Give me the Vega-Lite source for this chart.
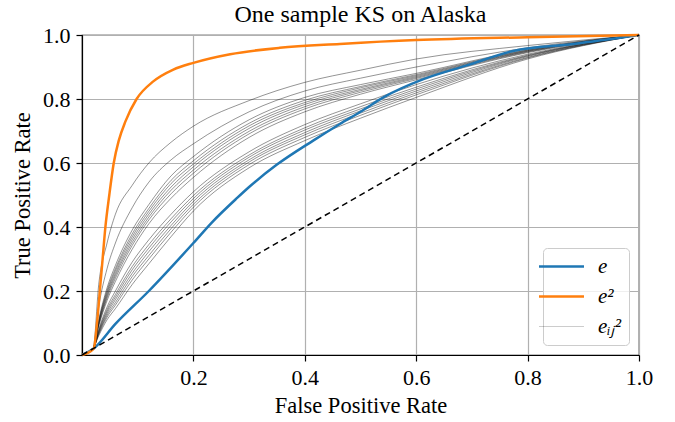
{
"$schema": "https://vega.github.io/schema/vega-lite/v6.json",
"width": 557, "height": 320,
"autosize": {"type": "none"},
"padding": {"left": 82, "top": 35, "right": 36, "bottom": 68},
"background": "white",
"title": {"text": "One sample KS on Alaska", "font": "'Liberation Serif', 'Times New Roman', serif", "fontSize": 24, "fontWeight": "normal", "color": "black", "offset": -3, "anchor": "middle"},
"config": {
 "font": "'Liberation Serif', 'Times New Roman', serif",
 "view": {"stroke": "black", "strokeWidth": 1.2},
 "axis": {"labelFont": "'Liberation Serif', 'Times New Roman', serif", "labelFontSize": 22, "labelColor": "black", "titleFont": "'Liberation Serif', 'Times New Roman', serif", "titleFontSize": 22.5, "titleFontWeight": "normal", "titleColor": "black", "tickColor": "black", "tickSize": 6, "tickWidth": 1.2, "domainColor": "black", "domainWidth": 1.2, "gridColor": "#b0b0b0", "gridWidth": 1.2, "gridOpacity": 1, "labelPadding": 6, "labelFlush": false, "labelOverlap": false},
 "legend": {"title": null, "orient": "bottom-right", "offset": 10, "symbolType": "M-2,0H2", "symbolSize": 506, "symbolOpacity": 1, "labelFont": "'Liberation Serif', 'Times New Roman', serif", "labelFontStyle": "italic", "labelFontSize": 21, "labelColor": "black", "labelOffset": 26, "rowPadding": 8, "padding": 8, "strokeColor": "#cccccc", "fillColor": "rgba(255,255,255,0.8)", "cornerRadius": 4}
},
"datasets": {"curves": [
{"s":"e","id":"e","x":0,"y":0},{"s":"e","id":"e","x":0.021,"y":0.02},{"s":"e","id":"e","x":0.06,"y":0.097},{"s":"e","id":"e","x":0.12,"y":0.2},{"s":"e","id":"e","x":0.2,"y":0.35},{"s":"e","id":"e","x":0.233,"y":0.414},{"s":"e","id":"e","x":0.278,"y":0.49},{"s":"e","id":"e","x":0.3,"y":0.525},{"s":"e","id":"e","x":0.35,"y":0.595},{"s":"e","id":"e","x":0.415,"y":0.67},{"s":"e","id":"e","x":0.463,"y":0.722},{"s":"e","id":"e","x":0.5,"y":0.76},{"s":"e","id":"e","x":0.541,"y":0.805},{"s":"e","id":"e","x":0.613,"y":0.862},{"s":"e","id":"e","x":0.691,"y":0.905},{"s":"e","id":"e","x":0.774,"y":0.95},{"s":"e","id":"e","x":0.882,"y":0.972},{"s":"e","id":"e","x":1,"y":1},
{"s":"e2","id":"e2","x":0,"y":0},{"s":"e2","id":"e2","x":0.021,"y":0.02},{"s":"e2","id":"e2","x":0.027,"y":0.1},{"s":"e2","id":"e2","x":0.032,"y":0.2},{"s":"e2","id":"e2","x":0.037,"y":0.3},{"s":"e2","id":"e2","x":0.042,"y":0.4},{"s":"e2","id":"e2","x":0.049,"y":0.5},{"s":"e2","id":"e2","x":0.057,"y":0.6},{"s":"e2","id":"e2","x":0.066,"y":0.67},{"s":"e2","id":"e2","x":0.078,"y":0.73},{"s":"e2","id":"e2","x":0.098,"y":0.8},{"s":"e2","id":"e2","x":0.128,"y":0.855},{"s":"e2","id":"e2","x":0.164,"y":0.892},{"s":"e2","id":"e2","x":0.2,"y":0.913},{"s":"e2","id":"e2","x":0.266,"y":0.94},{"s":"e2","id":"e2","x":0.355,"y":0.96},{"s":"e2","id":"e2","x":0.463,"y":0.972},{"s":"e2","id":"e2","x":0.6,"y":0.984},{"s":"e2","id":"e2","x":0.8,"y":0.993},{"s":"e2","id":"e2","x":1,"y":1},
{"s":"eij","id":"L1","x":0,"y":0},{"s":"eij","id":"L1","x":0.02,"y":0.02},{"s":"eij","id":"L1","x":0.03,"y":0.06},{"s":"eij","id":"L1","x":0.045,"y":0.11},{"s":"eij","id":"L1","x":0.06,"y":0.145},{"s":"eij","id":"L1","x":0.09,"y":0.22},{"s":"eij","id":"L1","x":0.12,"y":0.285},{"s":"eij","id":"L1","x":0.16,"y":0.37},{"s":"eij","id":"L1","x":0.2,"y":0.45},{"s":"eij","id":"L1","x":0.3,"y":0.585},{"s":"eij","id":"L1","x":0.4,"y":0.67},{"s":"eij","id":"L1","x":0.5,"y":0.74},{"s":"eij","id":"L1","x":0.6,"y":0.805},{"s":"eij","id":"L1","x":0.8,"y":0.925},{"s":"eij","id":"L1","x":1,"y":1},
{"s":"eij","id":"L2","x":0,"y":0},{"s":"eij","id":"L2","x":0.02,"y":0.02},{"s":"eij","id":"L2","x":0.03,"y":0.064},{"s":"eij","id":"L2","x":0.045,"y":0.118},{"s":"eij","id":"L2","x":0.06,"y":0.156},{"s":"eij","id":"L2","x":0.09,"y":0.234},{"s":"eij","id":"L2","x":0.12,"y":0.3},{"s":"eij","id":"L2","x":0.16,"y":0.384},{"s":"eij","id":"L2","x":0.2,"y":0.462},{"s":"eij","id":"L2","x":0.3,"y":0.595},{"s":"eij","id":"L2","x":0.4,"y":0.68},{"s":"eij","id":"L2","x":0.5,"y":0.749},{"s":"eij","id":"L2","x":0.6,"y":0.813},{"s":"eij","id":"L2","x":0.8,"y":0.928},{"s":"eij","id":"L2","x":1,"y":1},
{"s":"eij","id":"L3","x":0,"y":0},{"s":"eij","id":"L3","x":0.02,"y":0.02},{"s":"eij","id":"L3","x":0.03,"y":0.067},{"s":"eij","id":"L3","x":0.045,"y":0.124},{"s":"eij","id":"L3","x":0.06,"y":0.164},{"s":"eij","id":"L3","x":0.09,"y":0.245},{"s":"eij","id":"L3","x":0.12,"y":0.311},{"s":"eij","id":"L3","x":0.16,"y":0.395},{"s":"eij","id":"L3","x":0.2,"y":0.471},{"s":"eij","id":"L3","x":0.3,"y":0.603},{"s":"eij","id":"L3","x":0.4,"y":0.688},{"s":"eij","id":"L3","x":0.5,"y":0.756},{"s":"eij","id":"L3","x":0.6,"y":0.819},{"s":"eij","id":"L3","x":0.8,"y":0.93},{"s":"eij","id":"L3","x":1,"y":1},
{"s":"eij","id":"L4","x":0,"y":0},{"s":"eij","id":"L4","x":0.02,"y":0.02},{"s":"eij","id":"L4","x":0.03,"y":0.07},{"s":"eij","id":"L4","x":0.045,"y":0.13},{"s":"eij","id":"L4","x":0.06,"y":0.173},{"s":"eij","id":"L4","x":0.09,"y":0.255},{"s":"eij","id":"L4","x":0.12,"y":0.323},{"s":"eij","id":"L4","x":0.16,"y":0.405},{"s":"eij","id":"L4","x":0.2,"y":0.48},{"s":"eij","id":"L4","x":0.3,"y":0.61},{"s":"eij","id":"L4","x":0.4,"y":0.695},{"s":"eij","id":"L4","x":0.5,"y":0.763},{"s":"eij","id":"L4","x":0.6,"y":0.825},{"s":"eij","id":"L4","x":0.8,"y":0.933},{"s":"eij","id":"L4","x":1,"y":1},
{"s":"eij","id":"L5","x":0,"y":0},{"s":"eij","id":"L5","x":0.02,"y":0.02},{"s":"eij","id":"L5","x":0.03,"y":0.073},{"s":"eij","id":"L5","x":0.045,"y":0.136},{"s":"eij","id":"L5","x":0.06,"y":0.181},{"s":"eij","id":"L5","x":0.09,"y":0.266},{"s":"eij","id":"L5","x":0.12,"y":0.334},{"s":"eij","id":"L5","x":0.16,"y":0.416},{"s":"eij","id":"L5","x":0.2,"y":0.489},{"s":"eij","id":"L5","x":0.3,"y":0.618},{"s":"eij","id":"L5","x":0.4,"y":0.703},{"s":"eij","id":"L5","x":0.5,"y":0.769},{"s":"eij","id":"L5","x":0.6,"y":0.831},{"s":"eij","id":"L5","x":0.8,"y":0.935},{"s":"eij","id":"L5","x":1,"y":1},
{"s":"eij","id":"L6","x":0,"y":0},{"s":"eij","id":"L6","x":0.02,"y":0.02},{"s":"eij","id":"L6","x":0.03,"y":0.076},{"s":"eij","id":"L6","x":0.045,"y":0.142},{"s":"eij","id":"L6","x":0.06,"y":0.189},{"s":"eij","id":"L6","x":0.09,"y":0.276},{"s":"eij","id":"L6","x":0.12,"y":0.345},{"s":"eij","id":"L6","x":0.16,"y":0.426},{"s":"eij","id":"L6","x":0.2,"y":0.498},{"s":"eij","id":"L6","x":0.3,"y":0.625},{"s":"eij","id":"L6","x":0.4,"y":0.71},{"s":"eij","id":"L6","x":0.5,"y":0.776},{"s":"eij","id":"L6","x":0.6,"y":0.837},{"s":"eij","id":"L6","x":0.8,"y":0.937},{"s":"eij","id":"L6","x":1,"y":1},
{"s":"eij","id":"L7","x":0,"y":0},{"s":"eij","id":"L7","x":0.02,"y":0.02},{"s":"eij","id":"L7","x":0.03,"y":0.08},{"s":"eij","id":"L7","x":0.045,"y":0.15},{"s":"eij","id":"L7","x":0.06,"y":0.2},{"s":"eij","id":"L7","x":0.09,"y":0.29},{"s":"eij","id":"L7","x":0.12,"y":0.36},{"s":"eij","id":"L7","x":0.16,"y":0.44},{"s":"eij","id":"L7","x":0.2,"y":0.51},{"s":"eij","id":"L7","x":0.3,"y":0.635},{"s":"eij","id":"L7","x":0.4,"y":0.72},{"s":"eij","id":"L7","x":0.5,"y":0.785},{"s":"eij","id":"L7","x":0.6,"y":0.845},{"s":"eij","id":"L7","x":0.8,"y":0.94},{"s":"eij","id":"L7","x":1,"y":1},
{"s":"eij","id":"U1","x":0,"y":0},{"s":"eij","id":"U1","x":0.02,"y":0.02},{"s":"eij","id":"U1","x":0.03,"y":0.09},{"s":"eij","id":"U1","x":0.045,"y":0.17},{"s":"eij","id":"U1","x":0.06,"y":0.23},{"s":"eij","id":"U1","x":0.09,"y":0.33},{"s":"eij","id":"U1","x":0.12,"y":0.41},{"s":"eij","id":"U1","x":0.16,"y":0.49},{"s":"eij","id":"U1","x":0.2,"y":0.555},{"s":"eij","id":"U1","x":0.3,"y":0.68},{"s":"eij","id":"U1","x":0.4,"y":0.76},{"s":"eij","id":"U1","x":0.5,"y":0.815},{"s":"eij","id":"U1","x":0.6,"y":0.86},{"s":"eij","id":"U1","x":0.8,"y":0.945},{"s":"eij","id":"U1","x":1,"y":1},
{"s":"eij","id":"U2","x":0,"y":0},{"s":"eij","id":"U2","x":0.02,"y":0.02},{"s":"eij","id":"U2","x":0.03,"y":0.094},{"s":"eij","id":"U2","x":0.045,"y":0.178},{"s":"eij","id":"U2","x":0.06,"y":0.24},{"s":"eij","id":"U2","x":0.09,"y":0.342},{"s":"eij","id":"U2","x":0.12,"y":0.422},{"s":"eij","id":"U2","x":0.16,"y":0.504},{"s":"eij","id":"U2","x":0.2,"y":0.568},{"s":"eij","id":"U2","x":0.3,"y":0.691},{"s":"eij","id":"U2","x":0.4,"y":0.769},{"s":"eij","id":"U2","x":0.5,"y":0.821},{"s":"eij","id":"U2","x":0.6,"y":0.864},{"s":"eij","id":"U2","x":0.8,"y":0.947},{"s":"eij","id":"U2","x":1,"y":1},
{"s":"eij","id":"U3","x":0,"y":0},{"s":"eij","id":"U3","x":0.02,"y":0.02},{"s":"eij","id":"U3","x":0.03,"y":0.097},{"s":"eij","id":"U3","x":0.045,"y":0.184},{"s":"eij","id":"U3","x":0.06,"y":0.248},{"s":"eij","id":"U3","x":0.09,"y":0.351},{"s":"eij","id":"U3","x":0.12,"y":0.431},{"s":"eij","id":"U3","x":0.16,"y":0.515},{"s":"eij","id":"U3","x":0.2,"y":0.578},{"s":"eij","id":"U3","x":0.3,"y":0.699},{"s":"eij","id":"U3","x":0.4,"y":0.776},{"s":"eij","id":"U3","x":0.5,"y":0.826},{"s":"eij","id":"U3","x":0.6,"y":0.867},{"s":"eij","id":"U3","x":0.8,"y":0.949},{"s":"eij","id":"U3","x":1,"y":1},
{"s":"eij","id":"U4","x":0,"y":0},{"s":"eij","id":"U4","x":0.02,"y":0.02},{"s":"eij","id":"U4","x":0.03,"y":0.1},{"s":"eij","id":"U4","x":0.045,"y":0.19},{"s":"eij","id":"U4","x":0.06,"y":0.255},{"s":"eij","id":"U4","x":0.09,"y":0.36},{"s":"eij","id":"U4","x":0.12,"y":0.44},{"s":"eij","id":"U4","x":0.16,"y":0.525},{"s":"eij","id":"U4","x":0.2,"y":0.588},{"s":"eij","id":"U4","x":0.3,"y":0.708},{"s":"eij","id":"U4","x":0.4,"y":0.783},{"s":"eij","id":"U4","x":0.5,"y":0.83},{"s":"eij","id":"U4","x":0.6,"y":0.87},{"s":"eij","id":"U4","x":0.8,"y":0.95},{"s":"eij","id":"U4","x":1,"y":1},
{"s":"eij","id":"U5","x":0,"y":0},{"s":"eij","id":"U5","x":0.02,"y":0.02},{"s":"eij","id":"U5","x":0.03,"y":0.103},{"s":"eij","id":"U5","x":0.045,"y":0.196},{"s":"eij","id":"U5","x":0.06,"y":0.263},{"s":"eij","id":"U5","x":0.09,"y":0.369},{"s":"eij","id":"U5","x":0.12,"y":0.449},{"s":"eij","id":"U5","x":0.16,"y":0.536},{"s":"eij","id":"U5","x":0.2,"y":0.597},{"s":"eij","id":"U5","x":0.3,"y":0.716},{"s":"eij","id":"U5","x":0.4,"y":0.789},{"s":"eij","id":"U5","x":0.5,"y":0.835},{"s":"eij","id":"U5","x":0.6,"y":0.873},{"s":"eij","id":"U5","x":0.8,"y":0.952},{"s":"eij","id":"U5","x":1,"y":1},
{"s":"eij","id":"U6","x":0,"y":0},{"s":"eij","id":"U6","x":0.02,"y":0.02},{"s":"eij","id":"U6","x":0.03,"y":0.106},{"s":"eij","id":"U6","x":0.045,"y":0.202},{"s":"eij","id":"U6","x":0.06,"y":0.27},{"s":"eij","id":"U6","x":0.09,"y":0.378},{"s":"eij","id":"U6","x":0.12,"y":0.458},{"s":"eij","id":"U6","x":0.16,"y":0.546},{"s":"eij","id":"U6","x":0.2,"y":0.607},{"s":"eij","id":"U6","x":0.3,"y":0.724},{"s":"eij","id":"U6","x":0.4,"y":0.796},{"s":"eij","id":"U6","x":0.5,"y":0.839},{"s":"eij","id":"U6","x":0.6,"y":0.876},{"s":"eij","id":"U6","x":0.8,"y":0.953},{"s":"eij","id":"U6","x":1,"y":1},
{"s":"eij","id":"U7","x":0,"y":0},{"s":"eij","id":"U7","x":0.02,"y":0.02},{"s":"eij","id":"U7","x":0.03,"y":0.11},{"s":"eij","id":"U7","x":0.045,"y":0.21},{"s":"eij","id":"U7","x":0.06,"y":0.28},{"s":"eij","id":"U7","x":0.09,"y":0.39},{"s":"eij","id":"U7","x":0.12,"y":0.47},{"s":"eij","id":"U7","x":0.16,"y":0.56},{"s":"eij","id":"U7","x":0.2,"y":0.62},{"s":"eij","id":"U7","x":0.3,"y":0.735},{"s":"eij","id":"U7","x":0.4,"y":0.805},{"s":"eij","id":"U7","x":0.5,"y":0.845},{"s":"eij","id":"U7","x":0.6,"y":0.88},{"s":"eij","id":"U7","x":0.8,"y":0.955},{"s":"eij","id":"U7","x":1,"y":1},
{"s":"eij","id":"O1","x":0,"y":0},{"s":"eij","id":"O1","x":0.02,"y":0.02},{"s":"eij","id":"O1","x":0.03,"y":0.22},{"s":"eij","id":"O1","x":0.045,"y":0.35},{"s":"eij","id":"O1","x":0.06,"y":0.44},{"s":"eij","id":"O1","x":0.09,"y":0.53},{"s":"eij","id":"O1","x":0.12,"y":0.6},{"s":"eij","id":"O1","x":0.16,"y":0.665},{"s":"eij","id":"O1","x":0.2,"y":0.715},{"s":"eij","id":"O1","x":0.3,"y":0.795},{"s":"eij","id":"O1","x":0.4,"y":0.852},{"s":"eij","id":"O1","x":0.5,"y":0.89},{"s":"eij","id":"O1","x":0.6,"y":0.925},{"s":"eij","id":"O1","x":0.8,"y":0.967},{"s":"eij","id":"O1","x":1,"y":1},
{"s":"eij","id":"O2","x":0,"y":0},{"s":"eij","id":"O2","x":0.02,"y":0.02},{"s":"eij","id":"O2","x":0.03,"y":0.15},{"s":"eij","id":"O2","x":0.045,"y":0.27},{"s":"eij","id":"O2","x":0.06,"y":0.35},{"s":"eij","id":"O2","x":0.09,"y":0.46},{"s":"eij","id":"O2","x":0.12,"y":0.54},{"s":"eij","id":"O2","x":0.16,"y":0.61},{"s":"eij","id":"O2","x":0.2,"y":0.66},{"s":"eij","id":"O2","x":0.3,"y":0.76},{"s":"eij","id":"O2","x":0.4,"y":0.825},{"s":"eij","id":"O2","x":0.5,"y":0.865},{"s":"eij","id":"O2","x":0.6,"y":0.9},{"s":"eij","id":"O2","x":0.8,"y":0.96},{"s":"eij","id":"O2","x":1,"y":1}
]},
"layer": [
 {"data": {"name": "curves"}, "transform": [{"filter": "datum.s === 'eij'"}],
  "mark": {"type": "line", "strokeWidth": 1, "strokeOpacity": 0.42, "interpolate": "monotone"},
  "encoding": {
   "x": {"field": "x", "type": "quantitative", "scale": {"domain": [0, 1], "nice": false}, "axis": {"values": [0.2, 0.4, 0.6, 0.8, 1.0], "format": ".1f", "title": "False Positive Rate", "titlePadding": 6}},
   "y": {"field": "y", "type": "quantitative", "scale": {"domain": [0, 1], "nice": false}, "axis": {"values": [0, 0.2, 0.4, 0.6, 0.8, 1.0], "format": ".1f", "title": "True Positive Rate", "titlePadding": 8}},
   "color": {"field": "s", "type": "nominal", "scale": {"domain": ["e", "e2", "eij"], "range": ["#1f77b4", "#ff7f0e", "#000000"]},
     "legend": {"labelExpr": "datum.value === 'e2' ? 'e²' : (datum.value === 'eij' ? 'eᵢⱼ²' : 'e')", "encode": {"symbols": {"update": {"strokeWidth": {"signal": "datum.value === 'eij' ? 1 : 2.5"}, "strokeOpacity": {"signal": "datum.value === 'eij' ? 0.2 : 1"}, "opacity": {"value": 1}}}}}},
   "detail": {"field": "id"}
  }},
 {"data": {"name": "curves"}, "transform": [{"filter": "datum.s !== 'eij'"}],
  "mark": {"type": "line", "strokeWidth": 2.5, "interpolate": "monotone"},
  "encoding": {
   "x": {"field": "x", "type": "quantitative"},
   "y": {"field": "y", "type": "quantitative"},
   "color": {"field": "s", "type": "nominal"},
   "detail": {"field": "id"}
  }},
 {"data": {"values": [{"x": 0, "y": 0}, {"x": 1, "y": 1}]},
  "mark": {"type": "line", "color": "black", "strokeDash": [6, 4], "strokeWidth": 1.5},
  "encoding": {"x": {"field": "x", "type": "quantitative"}, "y": {"field": "y", "type": "quantitative"}}}
]
}
